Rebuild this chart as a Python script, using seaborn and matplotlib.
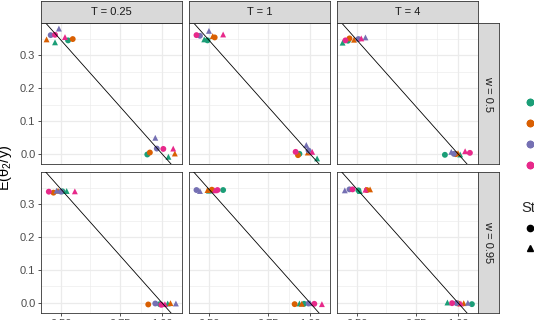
"""
E(theta2/y) facet grid: T across columns, w across rows
"""
import numpy as np
import pandas as pd
import matplotlib
matplotlib.use("Agg")
import matplotlib.pyplot as plt
import seaborn as sns
from matplotlib.lines import Line2D
from matplotlib.ticker import FixedLocator, NullFormatter

sns.set_style("white")
plt.rcParams['font.family'] = ['Liberation Sans', 'DejaVu Sans']

# --- data ---
T_levels = ['0.25', '1', '4']
w_levels = ['0.5', '0.95']
groups = ['n = 25', 'n = 50', 'n = 100', 'n = 200']
strategies = ['Strategy 1', 'Strategy 2']
dark2 = ['#1B9E77', '#D95F02', '#7570B3', '#E7298A']

# point order inside every cluster: group x strategy (circle, triangle)
pattern_group = [g for g in groups for _ in strategies] * 2
pattern_strat = strategies * len(groups) * 2

# first 8 = cluster near 0.5, last 8 = cluster near 1.0
x_w05_T025 = [0.525, 0.480, 0.542, 0.453, 0.466, 0.493, 0.480, 0.514,
              0.904, 1.045, 0.920, 1.092, 0.965, 0.955, 1.009, 1.080]
y_w05_T025 = [0.346, 0.340, 0.350, 0.349, 0.362, 0.382, 0.363, 0.356,
              -0.002, -0.009, 0.004, 0.001, 0.016, 0.049, 0.015, 0.016]
x_w05_T1 = [0.495, 0.484, 0.520, 0.513, 0.470, 0.500, 0.459, 0.551,
            0.930, 1.050, 0.921, 0.985, 0.990, 0.975, 0.906, 1.015]
y_w05_T1 = [0.346, 0.349, 0.355, 0.359, 0.360, 0.375, 0.362, 0.364,
            0.000, -0.014, -0.004, 0.004, 0.010, 0.027, 0.006, 0.006]
x_w05_T4 = [0.470, 0.453, 0.475, 0.490, 0.505, 0.530, 0.462, 0.515,
            0.914, 1.015, 0.985, 1.000, 0.972, 0.955, 1.085, 1.050]
y_w05_T4 = [0.345, 0.339, 0.352, 0.348, 0.350, 0.355, 0.346, 0.352,
            -0.003, -0.002, -0.001, 0.002, 0.000, 0.006, 0.003, 0.008]
x_w095_T025 = [0.505, 0.520, 0.475, 0.490, 0.500, 0.485, 0.460, 0.550,
               0.985, 1.040, 0.910, 1.060, 0.955, 1.100, 0.995, 1.020]
y_w095_T025 = [0.340, 0.341, 0.336, 0.342, 0.339, 0.342, 0.339, 0.340,
               -0.004, -0.002, -0.005, -0.001, -0.002, -0.002, -0.006, -0.004]
x_w095_T1 = [0.551, 0.500, 0.510, 0.495, 0.459, 0.470, 0.530, 0.520,
             0.960, 0.930, 0.900, 0.945, 0.990, 1.000, 1.030, 1.085]
y_w095_T1 = [0.344, 0.342, 0.345, 0.344, 0.344, 0.341, 0.344, 0.343,
             -0.003, -0.002, -0.004, -0.003, -0.002, -0.001, -0.003, -0.004]
x_w095_T4 = [0.505, 0.510, 0.535, 0.547, 0.475, 0.460, 0.485, 0.530,
             1.100, 0.930, 1.000, 1.040, 0.990, 1.070, 0.960, 1.020]
y_w095_T4 = [0.343, 0.341, 0.344, 0.346, 0.346, 0.343, 0.346, 0.345,
             -0.004, 0.001, -0.002, -0.001, -0.001, 0.000, -0.001, -0.002]

panel_x = {('0.5', '0.25'): x_w05_T025, ('0.5', '1'): x_w05_T1, ('0.5', '4'): x_w05_T4,
           ('0.95', '0.25'): x_w095_T025, ('0.95', '1'): x_w095_T1, ('0.95', '4'): x_w095_T4}
panel_y = {('0.5', '0.25'): y_w05_T025, ('0.5', '1'): y_w05_T1, ('0.5', '4'): y_w05_T4,
           ('0.95', '0.25'): y_w095_T025, ('0.95', '1'): y_w095_T1, ('0.95', '4'): y_w095_T4}

# --- layout (pixels) ---
W, H = 534, 320
col_left = [41, 189, 337]
row_top = [23, 172]
pw = ph = 141
border = '#333333'
grid_col = '#ebebeb'

def rect(left, top, w, h):
    return [left / W, 1 - (top + h) / H, w / W, h / H]

fig = plt.figure(figsize=(W / 100, H / 100), dpi=100)

xs_line = np.geomspace(0.4, 1.2, 60)

for r, w in enumerate(w_levels):
    for c, T in enumerate(T_levels):
        ax = fig.add_axes(rect(col_left[c], row_top[r], pw, ph))
        df = pd.DataFrame({'x': panel_x[(w, T)], 'y': panel_y[(w, T)],
                           'group': pattern_group, 'strategy': pattern_strat})
        sns.scatterplot(data=df, x='x', y='y', hue='group', style='strategy',
                        hue_order=groups, palette=dark2,
                        markers={strategies[0]: 'o', strategies[1]: '^'},
                        s=18, linewidth=0, legend=False, ax=ax, zorder=3)
        ax.plot(xs_line, -0.5 * np.log(xs_line), color='black', lw=0.6, zorder=4)

        ax.set_xscale('log')
        ax.set_xlim(0.436, 1.147)
        ax.set_ylim(-0.031, 0.399)
        ax.xaxis.set_major_locator(FixedLocator([0.5, 0.75, 1.0]))
        ax.xaxis.set_minor_locator(FixedLocator([0.612, 0.866]))
        ax.xaxis.set_minor_formatter(NullFormatter())
        ax.set_xticklabels(['0.50', '0.75', '1.00'])
        ax.yaxis.set_major_locator(FixedLocator([0.0, 0.1, 0.2, 0.3]))
        ax.yaxis.set_minor_locator(FixedLocator([0.05, 0.15, 0.25, 0.35]))
        ax.set_yticklabels(['0.0', '0.1', '0.2', '0.3'])
        ax.grid(True, which='major', color=grid_col, lw=0.9)
        ax.grid(True, which='minor', color=grid_col, lw=0.45)
        ax.set_axisbelow(True)
        ax.set_xlabel('')
        ax.set_ylabel('')
        for sp in ax.spines.values():
            sp.set_color(border)
            sp.set_linewidth(0.6)
        ax.tick_params(which='major', length=2.5, width=0.6, color=border,
                       labelsize=8, labelcolor='#4d4d4d', pad=1.5)
        ax.tick_params(which='minor', length=0)
        ax.tick_params(axis='x', bottom=(r == 1), labelbottom=(r == 1))
        ax.tick_params(axis='y', left=(c == 0), labelleft=(c == 0))

        # top strips
        if r == 0:
            sax = fig.add_axes(rect(col_left[c], 1, pw, 22))
            sax.set_facecolor('#d9d9d9')
            sax.set_xticks([]); sax.set_yticks([])
            for sp in sax.spines.values():
                sp.set_color(border); sp.set_linewidth(0.6)
            sax.text(0.5, 0.5, f'T = {T}', ha='center', va='center',
                     fontsize=8, color='#1a1a1a', transform=sax.transAxes)
        # right strips
        if c == 2:
            sax = fig.add_axes(rect(478, row_top[r], 21, ph))
            sax.set_facecolor('#d9d9d9')
            sax.set_xticks([]); sax.set_yticks([])
            for sp in sax.spines.values():
                sp.set_color(border); sp.set_linewidth(0.6)
            sax.text(0.5, 0.5, f'w = {w}', ha='center', va='center', rotation=-90,
                     fontsize=8, color='#1a1a1a', transform=sax.transAxes)

fig.text(5 / W, 1 - 168 / H, r'E($\mathregular{\theta_2}$/y)', rotation=90,
         ha='center', va='center', fontsize=10.5, color='black')

# legends (cut by the right edge like the reference)
col_handles = [Line2D([], [], marker='o', ls='', color=cc, markersize=4.5) for cc in dark2]
leg1 = fig.legend(col_handles, groups, loc='upper left', frameon=False,
                  bbox_to_anchor=(521.7 / W, 1 - 98 / H), borderpad=0, borderaxespad=0,
                  handlelength=1.5, handletextpad=0.5, labelspacing=0.98, fontsize=8)
shp_handles = [Line2D([], [], marker=m, ls='', color='black', markersize=4.5) for m in ['o', '^']]
leg2 = fig.legend(shp_handles, strategies, loc='upper left', frameon=False, title='Strategy',
                  bbox_to_anchor=(521.7 / W, 1 - 201 / H), borderpad=0, borderaxespad=0,
                  handlelength=1.5, handletextpad=0.5, labelspacing=0.83, fontsize=8,
                  title_fontsize=10.5, alignment='left')
fig.add_artist(leg1)

fig.savefig('out.png', dpi=100)
